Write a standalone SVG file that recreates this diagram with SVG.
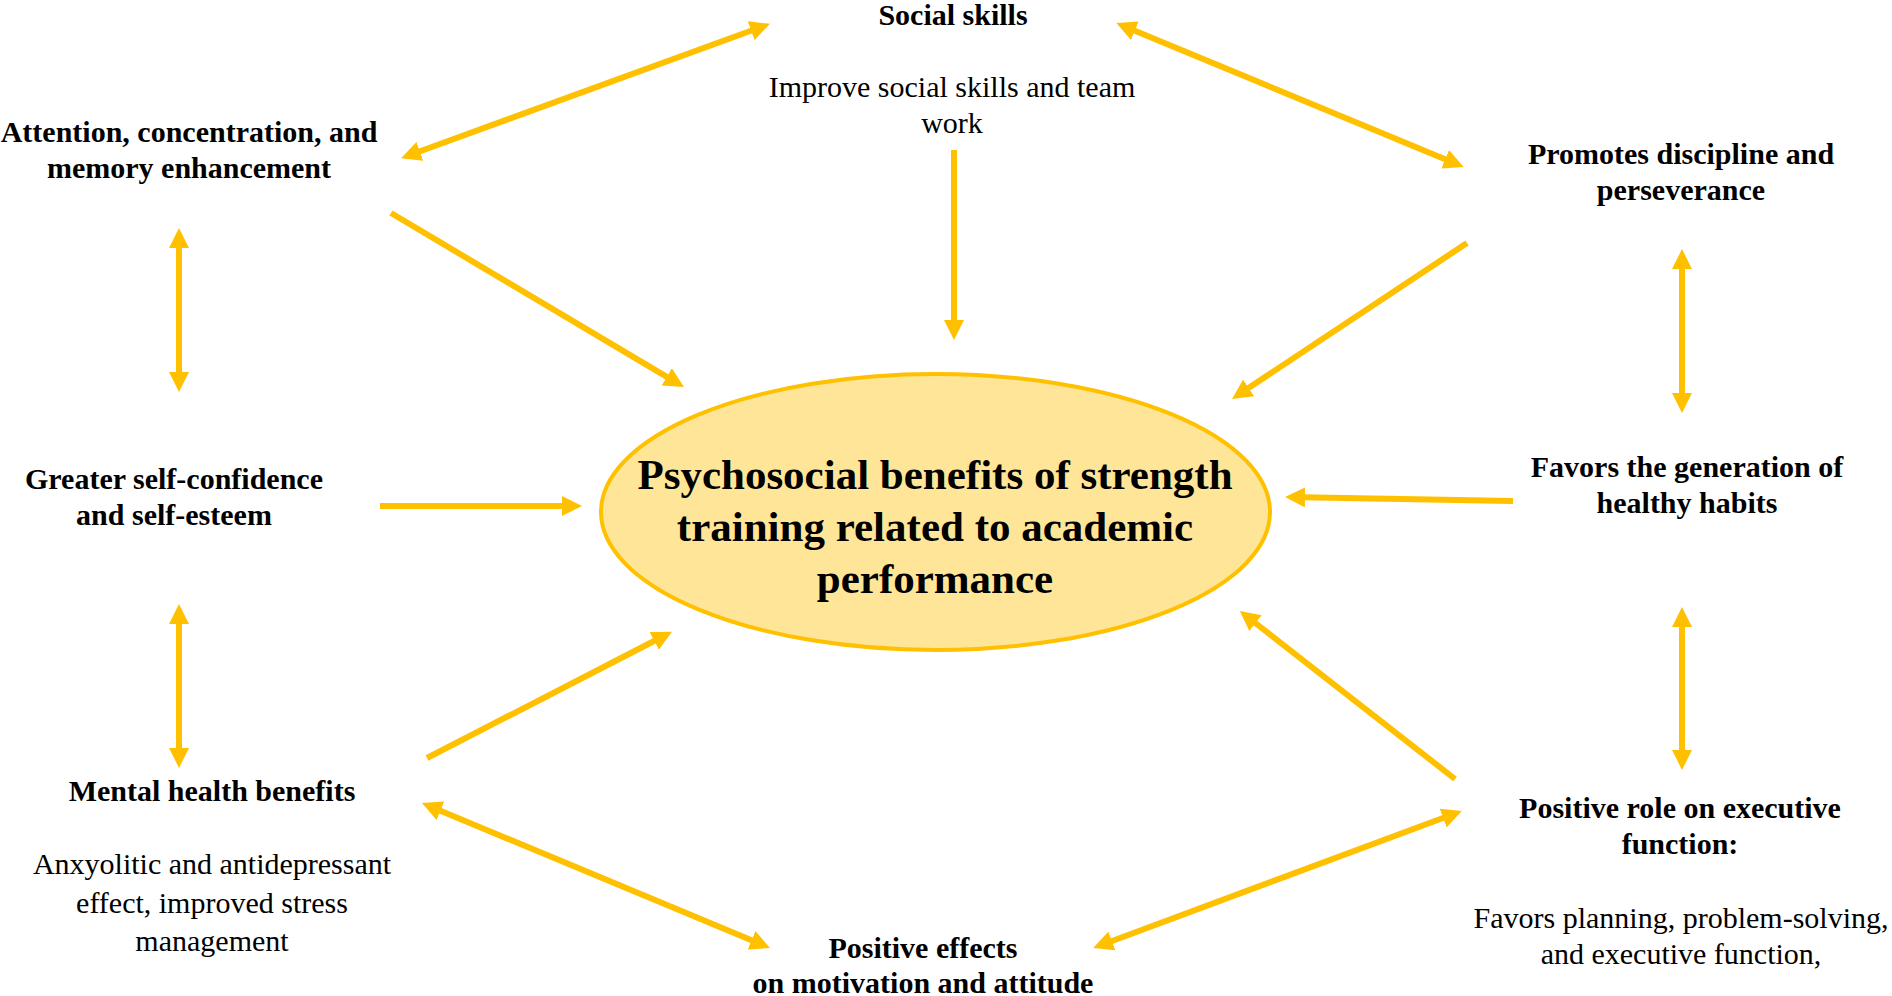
<svg xmlns="http://www.w3.org/2000/svg" width="1892" height="996" viewBox="0 0 1892 996">
<defs>
<style>
.b{font-family:"Liberation Serif","Times New Roman",serif;font-weight:bold;font-size:30px;fill:#000;text-anchor:middle}
.r{font-family:"Liberation Serif","Times New Roman",serif;font-size:30px;fill:#000;text-anchor:middle}
.t{font-family:"Liberation Serif","Times New Roman",serif;font-weight:bold;font-size:43px;fill:#000;text-anchor:middle}
.c line{stroke:#FFC000;stroke-width:6;fill:none}
.one{marker-end:url(#ah)}
.two{marker-start:url(#ah);marker-end:url(#ah)}
</style>
<marker id="ah" markerUnits="userSpaceOnUse" markerWidth="20" markerHeight="20" refX="2" refY="10" orient="auto-start-reverse" viewBox="0 0 20 20">
<path d="M0,0 L20,10 L0,20 z" fill="#FFC000"/>
</marker>
</defs>
<rect width="1892" height="996" fill="#fff"/>
<g id="connectors" class="c">
<line class="two" x1="418" y1="152" x2="753" y2="30"/>
<line class="two" x1="1133" y1="30" x2="1447" y2="160"/>
<line class="one" x1="954" y1="150" x2="954" y2="322"/>
<line class="one" x1="391" y1="213" x2="668.5" y2="377.8"/>
<line class="one" x1="1467" y1="243" x2="1247" y2="389"/>
<line class="two" x1="179" y1="246" x2="179" y2="374"/>
<line class="two" x1="1682" y1="267" x2="1682" y2="395"/>
<line class="one" x1="380" y1="506" x2="564" y2="506"/>
<line class="one" x1="1513" y1="501" x2="1303" y2="497.3"/>
<line class="two" x1="179" y1="622" x2="179" y2="750"/>
<line class="one" x1="427" y1="758" x2="656" y2="640"/>
<line class="two" x1="438.6" y1="809.9" x2="753.4" y2="941.1"/>
<line class="two" x1="1110" y1="941.7" x2="1445" y2="817.3"/>
<line class="one" x1="1455" y1="779" x2="1254" y2="622"/>
<line class="two" x1="1682" y1="625" x2="1682" y2="752"/>
</g>
<g id="center">
<ellipse cx="935.5" cy="512" rx="334.5" ry="138" fill="#FFE597" stroke="#FFC000" stroke-width="4"/>
<text class="t" x="935" y="489">Psychosocial benefits of strength</text>
<text class="t" x="935" y="541">training related to academic</text>
<text class="t" x="935" y="593">performance</text>
</g>
<g id="social">
<text class="b" x="953" y="25">Social skills</text>
<text class="r" x="952" y="97">Improve social skills and team</text>
<text class="r" x="952" y="133">work</text>
</g>
<g id="attention">
<text class="b" x="189" y="142">Attention, concentration, and</text>
<text class="b" x="189" y="178">memory enhancement</text>
</g>
<g id="discipline">
<text class="b" x="1681" y="164">Promotes discipline and</text>
<text class="b" x="1681" y="200">perseverance</text>
</g>
<g id="confidence">
<text class="b" x="174" y="489">Greater self-confidence</text>
<text class="b" x="174" y="525">and self-esteem</text>
</g>
<g id="habits">
<text class="b" x="1687" y="477">Favors the generation of</text>
<text class="b" x="1687" y="513">healthy habits</text>
</g>
<g id="mental">
<text class="b" x="212" y="801">Mental health benefits</text>
<text class="r" x="212" y="874">Anxyolitic and antidepressant</text>
<text class="r" x="212" y="913">effect, improved stress</text>
<text class="r" x="212" y="951">management</text>
</g>
<g id="motivation">
<text class="b" x="923" y="958">Positive effects</text>
<text class="b" x="923" y="993">on motivation and attitude</text>
</g>
<g id="executive">
<text class="b" x="1680" y="818">Positive role on executive</text>
<text class="b" x="1680" y="854">function:</text>
<text class="r" x="1681" y="928">Favors planning, problem-solving,</text>
<text class="r" x="1681" y="964">and executive function,</text>
</g>
</svg>
